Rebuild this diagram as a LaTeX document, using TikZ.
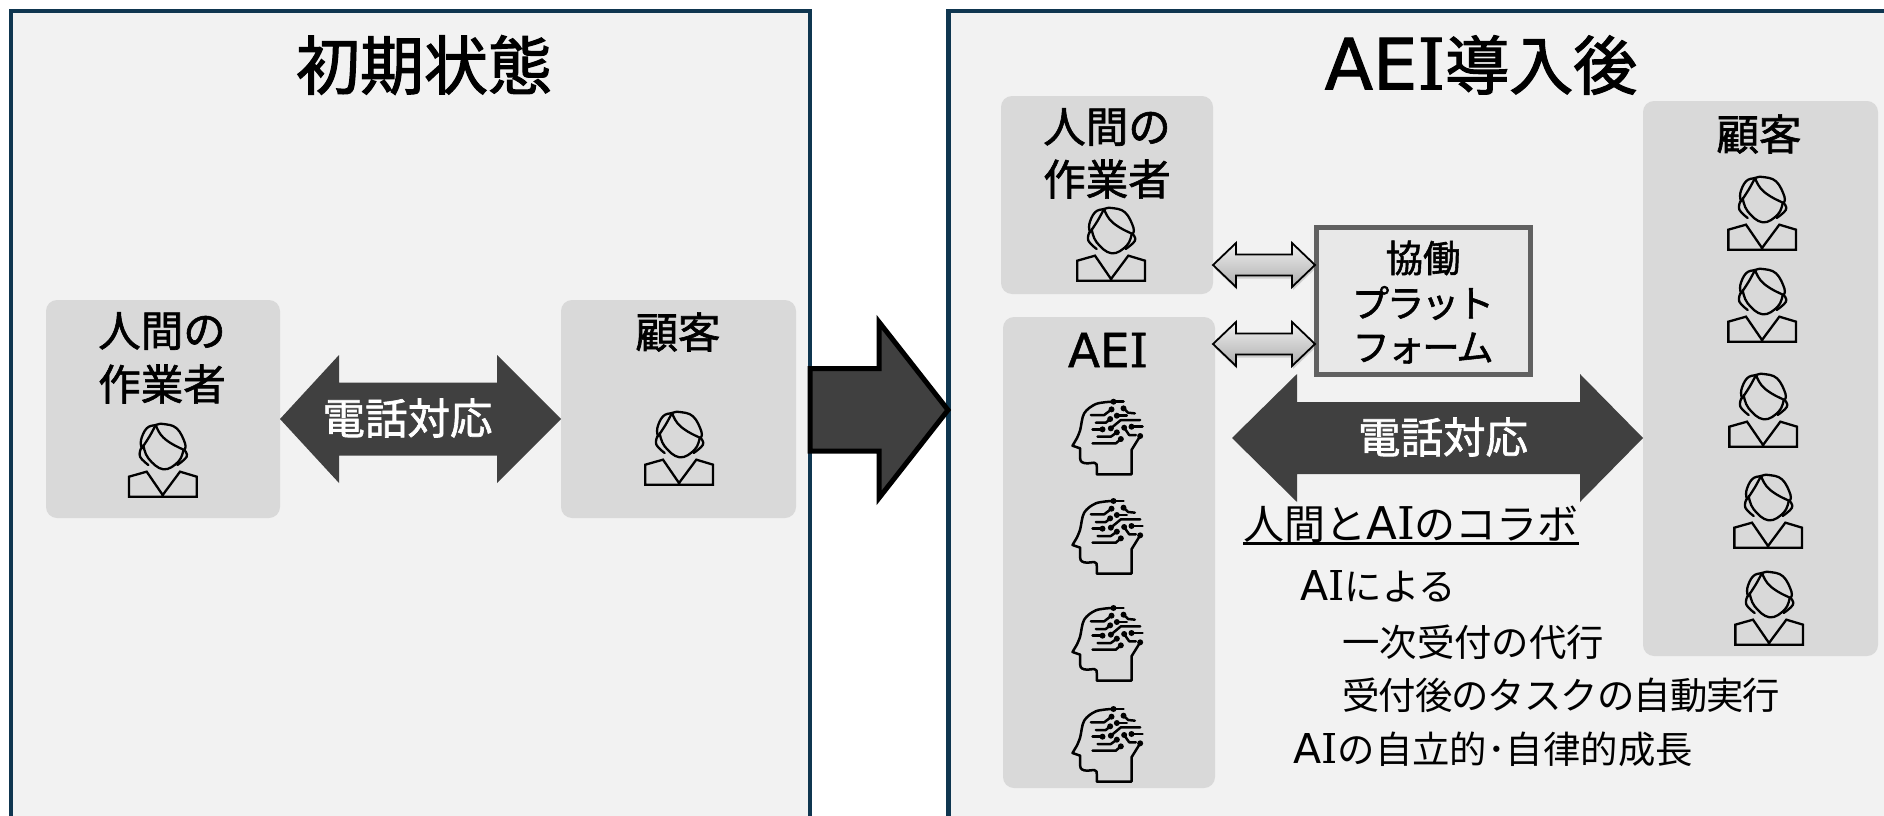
\documentclass[tikz,border=0pt]{standalone}
\usepackage{fontspec}
\setmainfont{Noto Sans CJK JP}
\newfontfamily\jpm[FakeBold=1.5]{Noto Sans CJK JP}
\newfontfamily\jpb[FakeBold=1.8]{Noto Sans CJK JP}
\newfontfamily\jpt[LetterSpace=-2.6]{Noto Sans CJK JP}
\newfontfamily\jpk[FakeBold=1.5,LetterSpace=-6.5]{Noto Sans CJK JP}
\newfontfamily\lat[Scale=1.1]{DejaVu Sans}
\newfontfamily\lats[Scale=1.1]{DejaVu Serif}
\newfontfamily\latm[Scale=1.1,FakeBold=1.0]{DejaVu Sans}
\newfontfamily\latsm[Scale=1.1,FakeBold=1.0]{DejaVu Serif}
\newfontfamily\latb[Scale=1.1,FakeBold=1.4]{DejaVu Sans}
\newfontfamily\latsb[Scale=1.1,FakeBold=1.4]{DejaVu Serif}
\newcommand{\Rai}{{\lat A}{\lats I}}
\usetikzlibrary{shadows}
\definecolor{panelfill}{HTML}{F2F2F2}
\definecolor{paneledge}{HTML}{0F3650}
\definecolor{boxfill}{HTML}{D9D9D9}
\definecolor{darkarrow}{HTML}{404040}
\tikzset{
  panel/.style={fill=panelfill,draw=paneledge,line width=4.5pt},
  graybox/.style={fill=boxfill,rounded corners=11pt},
  title/.style={inner sep=0,font=\jpb\fontsize{64}{64}\selectfont},
  label/.style={inner sep=0,font=\jpm\fontsize{42.5}{42.5}\selectfont},
  small/.style={inner sep=0,font=\jpk\fontsize{37.4}{37.4}\selectfont},
  body/.style={inner sep=0,anchor=west,font=\fontsize{37.4}{37.4}\selectfont},
  bigarrow/.style={fill=darkarrow},
  minarrow/.style={draw=black,line width=1.8pt,top color=black!6,bottom color=black!32,
    drop shadow={shadow xshift=1pt,shadow yshift=-3pt,opacity=.3}},
  icon/.style={draw=black,line width=2.3pt,line join=round,line cap=round},
  headicon/.style={draw=black,line width=2.5pt,line join=round,line cap=round},
  pics/person/.style={code={
    \begin{scope}[scale=1/3,icon]
      \draw[line join=miter] (-101,110)--(-101,50)--(-48,35)--(0,105)--(52,35)--(102,50)--(102,110)--cycle;
      \draw plot[smooth,tension=.7] coordinates {(-63,-35)(-65,-60)(-48,-95)(-21,-105)(2,-108)(42,-95)(67,-50)(65,-30)};
      \draw plot[smooth,tension=.7] coordinates {(-21,-105)(-40,-70)(-63,-35)};
      \draw plot[smooth,tension=.7] coordinates {(-21,-105)(-5,-75)(25,-50)(65,-30)};
      \draw plot[smooth,tension=.7] coordinates {(-58,-45)(-43,-5)(2,28)(47,5)(62,-30)};
      \draw plot[smooth,tension=.7] coordinates {(-65,-35)(-68,-10)(-43,15)};
      \draw plot[smooth,tension=.7] coordinates {(65,-30)(72,-10)(44,15)};
    \end{scope}
  }},
  pics/aihead/.style={code={
    \begin{scope}[scale=1/3,headicon,shift={(-200,-170)}]
      \draw plot[smooth,tension=.55] coordinates {(212,65)(165,72)(130,100)(118,150)(108,175)} -- (95,197) -- (118,205) -- (118,235) .. controls (118,245) and (125,250) .. (140,250) -- (160,248) .. controls (168,248) and (168,255) .. (168,262) -- (168,283) -- (272,283) -- (272,210) -- (298,168);
      \draw (218,65)--(248,65);
      \draw (150,105)--(190,105)--(212,88);
      \draw (248,85)--(262,98)--(282,100);
      \draw (165,128)--(195,128)--(208,117);
      \draw (228,107)--(258,107);
      \draw (210,145)--(240,120)--(298,120);
      \draw (155,148)--(185,148);
      \draw (272,140)--(305,140);
      \draw (170,170)--(210,170)--(228,157);
      \draw (250,143)--(265,165)--(285,165);
      \draw (155,190)--(225,190)--(240,177);
      \foreach \p in {(218,65),(212,88),(248,85),(208,117),(228,107),(210,145),(185,148),(272,140),(228,157),(250,143),(240,177),(298,168)}
        \fill[black] \p circle (9);
    \end{scope}
  }}
}
% #1 name, #2 x left, #3 x right, #4 y centre, #5 head half-height, #6 shaft half-height, #7 left head length, #8 right head length, #9 style
\newcommand{\dblarrow}[9]{%
  \path[#9] (#2,#4) -- (#2+#7,#4-#5) -- (#2+#7,#4-#6) -- (#3-#8,#4-#6) -- (#3-#8,#4-#5) -- (#3,#4)
    -- (#3-#8,#4+#5) -- (#3-#8,#4+#6) -- (#2+#7,#4+#6) -- (#2+#7,#4+#5) -- cycle;
  \coordinate (#1) at ({(#2+#3)/2},#4);}
\begin{document}
\begin{tikzpicture}[x=1pt,y=-1pt]
\clip (0,0) rectangle (1884,816);
\fill[white] (0,0) rectangle (1884,816);
% panels
\draw[panel] (11,11) rectangle (810,840);
\draw[panel] (948.5,11) rectangle (1920,840);
\node[title] (t1) at (424,65) {初期状態};
\node[title] (t2) at (1481,65) {{\latb AE}{\latsb I}導入後};
% left panel
\fill[graybox] (46,300) rectangle (280,518);
\fill[graybox] (561,300) rectangle (796,518);
\node[label] (h1a) at (162,331) {人間の};
\node[label] (h1b) at (162,384) {作業者};
\node[label] (c1) at (678,332) {顧客};
\pic at (162.7,460) {person};
\pic at (679,448) {person};
\dblarrow{a1}{280}{561}{419}{64}{36.5}{59}{64}{bigarrow}
\node[label,text=white] (a1t) at (407.5,418) {電話対応};
% right panel boxes
\fill[graybox] (1001,96) rectangle (1213,294);
\fill[graybox] (1003,317) rectangle (1215,788);
\fill[graybox] (1643,101) rectangle (1878,656);
\node[label] (h2a) at (1107,127) {人間の};
\node[label] (h2b) at (1107,179) {作業者};
\pic at (1111,244) {person};
\node[label] (aei) at (1108,350) {{\latm AE}{\latsm I}};
\pic at (1107.5,436.7) {aihead};
\pic at (1107.5,536) {aihead};
\pic at (1107.5,643) {aihead};
\pic at (1107.5,744) {aihead};
\node[label] (c2) at (1759,134) {顧客};
\pic at (1762,213) {person};
\pic at (1762,305) {person};
\pic at (1763,410) {person};
\pic at (1768,511) {person};
\pic at (1769,608) {person};
% platform
\node[draw=black!62,line width=5pt,fill=black!9,minimum width=214pt,minimum height=147pt,inner sep=0] (pf) at (1423,300.5) {};
\node[small,font=\jpm\fontsize{37.4}{37.4}\selectfont] (p1) at (1423,258) {協働};
\node[small] (p2) at (1423,303) {プラット};
\node[small] (p3) at (1423,348) {フォーム};
\dblarrow{s1}{1213}{1315}{265}{22}{10.5}{23}{23}{minarrow}
\dblarrow{s2}{1213}{1315}{344}{22}{10.5}{23}{23}{minarrow}
\dblarrow{a2}{1232}{1643}{438}{64}{36}{65}{63}{bigarrow}
\node[label,text=white] (a2t) at (1443,437) {電話対応};
% text
\node[body,font=\fontsize{41}{41}\selectfont] (n0) at (1243,524) {人間と\Rai のコラボ};
\coordinate (ul) at (0,543.5);
\draw[line width=2.4pt] (n0.west |- ul) -- (n0.east |- ul);
\node[body] (n1) at (1300,586) {\Rai による};
\node[body] (n2) at (1342,642) {一次受付の代行};
\node[body,font=\jpt\fontsize{37.4}{37.4}\selectfont] (n3) at (1342,695) {受付後のタスクの自動実行};
\node[body] (n4) at (1293,749) {\Rai の自立的･自律的成長};
% transition arrow
\draw[fill=darkarrow,draw=black,line width=5pt,miter limit=10] (810,368.5) -- (879,368.5) -- (879,322) -- (948,410) -- (879,498) -- (879,451) -- (810,451) -- cycle;
\end{tikzpicture}
\end{document}
